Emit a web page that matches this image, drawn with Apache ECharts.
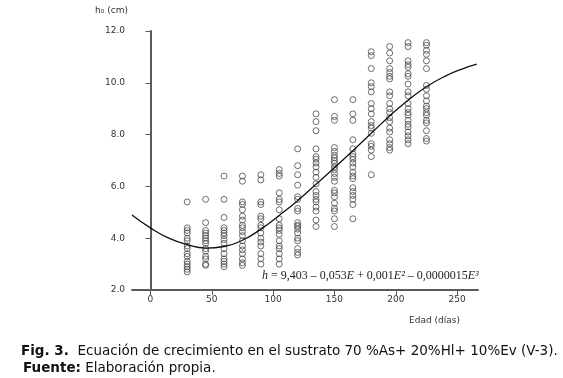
<!DOCTYPE html>
<html>
<head>
<meta charset="utf-8">
<script src="https://cdn.jsdelivr.net/npm/echarts@6/dist/echarts.min.js"></script>
<style>
  html, body { margin: 0; padding: 0; background: #fff; }
  #chart { width: 563px; height: 378px; }
</style>
</head>
<body>
<div id="chart"></div>
<script>
// edad (días) of each measured column
const ages = [30, 45, 60, 75, 90, 105, 120, 135, 150, 165, 180, 195, 210, 225];

const h30 = [5.4, 4.4, 4.3, 4.2, 4.0, 3.9, 3.7, 3.6, 3.4, 3.3, 3.1, 3.0, 2.9, 2.8, 2.7];
const h45 = [5.5, 4.6, 4.3, 4.2, 4.1, 4.0, 3.9, 3.8, 3.6, 3.5, 3.3, 3.2, 3.0, 2.95];
const h60 = [6.4, 5.5, 4.8, 4.4, 4.3, 4.2, 4.1, 3.95, 3.8, 3.6, 3.4, 3.2, 3.1, 3.0, 2.9];
const h75 = [6.4, 6.2, 5.4, 5.3, 5.1, 4.85, 4.7, 4.5, 4.4, 4.25, 4.1, 3.9, 3.7, 3.55, 3.4, 3.2, 3.05, 2.95];
const h90 = [6.45, 6.25, 5.4, 5.3, 4.85, 4.75, 4.5, 4.4, 4.2, 4.0, 3.85, 3.7, 3.4, 3.2, 3.0];
const h105 = [6.65, 6.5, 6.4, 5.75, 5.5, 5.4, 5.1, 4.75, 4.5, 4.4, 4.3, 4.15, 3.9, 3.7, 3.6, 3.4, 3.2, 3.0];
const h120 = [7.45, 6.8, 6.45, 6.05, 5.6, 5.5, 5.15, 5.05, 4.6, 4.5, 4.45, 4.35, 4.2, 4.0, 3.9, 3.6, 3.45, 3.35];
const h135 = [8.8, 8.5, 8.15, 7.45, 7.15, 7.05, 6.9, 6.75, 6.55, 6.35, 6.1, 5.8, 5.65, 5.5, 5.4, 5.2, 5.05, 4.7, 4.45];
const h150 = [9.35, 8.7, 8.55, 7.5, 7.35, 7.2, 7.1, 7.0, 6.9, 6.75, 6.65, 6.5, 6.35, 6.2, 5.85, 5.75, 5.6, 5.35, 5.15, 5.05, 4.75, 4.45];
const h165 = [9.35, 8.8, 8.55, 7.8, 7.45, 7.25, 7.15, 7.05, 6.9, 6.75, 6.55, 6.4, 6.3, 5.95, 5.8, 5.65, 5.5, 5.3, 4.75];
const h180 = [11.2, 11.05, 10.55, 10.0, 9.85, 9.65, 9.2, 9.0, 8.8, 8.5, 8.35, 8.25, 8.05, 7.65, 7.55, 7.4, 7.15, 6.45];
const h195 = [11.4, 11.15, 10.85, 10.55, 10.4, 10.25, 10.15, 9.65, 9.5, 9.2, 9.0, 8.85, 8.65, 8.5, 8.25, 8.1, 7.8, 7.65, 7.5, 7.4];
const h210 = [11.55, 11.4, 10.85, 10.7, 10.6, 10.35, 10.25, 9.95, 9.65, 9.5, 9.2, 9.0, 8.85, 8.75, 8.55, 8.4, 8.3, 8.1, 7.95, 7.8, 7.65];
const h225 = [11.55, 11.45, 11.25, 11.1, 10.85, 10.55, 9.9, 9.75, 9.5, 9.3, 9.1, 9.0, 8.85, 8.75, 8.55, 8.45, 8.15, 7.85, 7.75];

// fitted curve as drawn in the figure
const curveAges = [-15, 0, 15, 30, 45, 60, 75, 90, 105, 120, 135, 150, 165, 180, 195, 210, 225, 240, 255, 266];
const curveH = [4.9, 4.4, 4.0, 3.75, 3.62, 3.68, 3.92, 4.35, 4.88, 5.45, 6.08, 6.72, 7.38, 8.05, 8.72, 9.33, 9.85, 10.25, 10.55, 10.72];

const xTicks = [0, 50, 100, 150, 200, 250];

const heights = [h30, h45, h60, h75, h90, h105, h120, h135, h150, h165, h180, h195, h210, h225];
const points = [];
heights.forEach((col, i) => col.forEach(v => points.push([ages[i], v])));

const chart = echarts.init(document.getElementById('chart'));
const axisGray = '#5a5a5a';
const labelFont = { color: '#333', fontSize: 9, fontFamily: 'DejaVu Sans' };

chart.setOption({
  animation: false,
  grid: { left: 132, right: 85, top: 31, bottom: 88 },
  xAxis: {
    type: 'value',
    min: -15,
    max: 267,
    splitLine: { show: false },
    axisLine: { lineStyle: { color: axisGray, width: 2 } },
    axisTick: { length: 5, lineStyle: { color: axisGray }, customValues: xTicks },
    axisLabel: Object.assign({ margin: 5, customValues: xTicks }, labelFont)
  },
  yAxis: {
    type: 'value',
    min: 2,
    max: 12,
    interval: 2,
    splitLine: { show: false },
    axisLine: { show: true, lineStyle: { color: axisGray, width: 2 } },
    axisTick: { show: true, length: 5, lineStyle: { color: axisGray } },
    axisLabel: Object.assign({ margin: 7, formatter: v => v.toFixed(1) }, labelFont)
  },
  series: [
    {
      type: 'scatter',
      data: points,
      symbol: 'circle',
      symbolSize: 6,
      itemStyle: { color: 'transparent', borderColor: '#4a4a4a', borderWidth: 1 }
    },
    {
      type: 'line',
      data: curveAges.map((a, i) => [a, curveH[i]]),
      smooth: true,
      symbol: 'none',
      lineStyle: { color: '#111', width: 1.3 }
    }
  ],
  graphic: [
    {
      type: 'text', left: 95, top: 6,
      style: { text: 'h\u2080 (cm)', font: '9px "DejaVu Sans"', fill: '#333' }
    },
    {
      type: 'text', left: 409, top: 316,
      style: { text: 'Edad (días)', font: '9px "DejaVu Sans"', fill: '#333' }
    },
    {
      type: 'text', left: 262, top: 270,
      style: {
        text: '{i|h} = 9,403 \u2013 0,053{i|E} + 0,001{i|E\u00b2} \u2013 0,0000015{i|E\u00b3}',
        font: '12px "Liberation Serif"', fill: '#222',
        rich: { i: { fontStyle: 'italic', fontSize: 12, fontFamily: 'Liberation Serif', color: '#222' } }
      }
    },
    {
      type: 'text', left: 21, top: 344,
      style: {
        text: '{b|Fig. 3.}  Ecuación de crecimiento en el sustrato 70 %As+ 20%Hl+ 10%Ev (V-3).',
        font: '13.5px "DejaVu Sans"', fill: '#111',
        rich: { b: { fontWeight: 'bold', fontSize: 13.5, fontFamily: 'DejaVu Sans', color: '#111' } }
      }
    },
    {
      type: 'text', left: 23, top: 361,
      style: {
        text: '{b|Fuente:} Elaboración propia.',
        font: '13.5px "DejaVu Sans"', fill: '#111',
        rich: { b: { fontWeight: 'bold', fontSize: 13.5, fontFamily: 'DejaVu Sans', color: '#111' } }
      }
    }
  ]
});
</script>
</body>
</html>
